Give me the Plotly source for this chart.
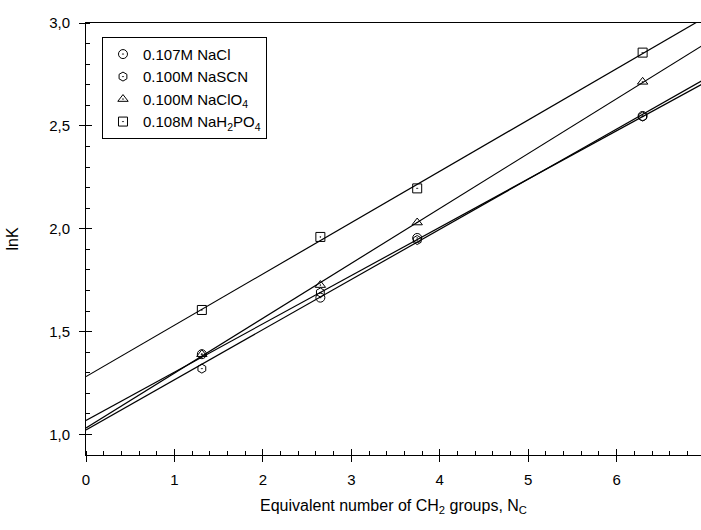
import numpy as np
import plotly.graph_objects as go

# Equivalent number of CH2 groups
nc = [1.31, 2.65, 3.745, 6.294]

# lnK for each salt
lnk_nacl = [1.39, 1.665, 1.955, 2.548]
lnk_nascn = [1.32, 1.69, 1.945, 2.545]
lnk_naclo4 = [1.39, 1.726, 2.03, 2.714]
lnk_nah2po4 = [1.605, 1.96, 2.196, 2.856]

series_names = [
    "0.107M NaCl",
    "0.100M NaSCN",
    "0.100M NaClO<sub>4</sub>",
    "0.108M NaH<sub>2</sub>PO<sub>4</sub>",
]
series_values = [lnk_nacl, lnk_nascn, lnk_naclo4, lnk_nah2po4]
symbols = ["circle-open-dot", "hexagon-open-dot", "triangle-up-open-dot", "square-open-dot"]

x_ticks = [0, 1, 2, 3, 4, 5, 6, 7]
y_ticks = [1.0, 1.5, 2.0, 2.5, 3.0]

X_RANGE = [0, 6.954]
Y_RANGE = [0.9, 3.0]

fig = go.Figure()

# linear regression lines through each series
x_fit = np.array([0.0, 7.2])
for vals in series_values:
    slope, intercept = np.polyfit(nc, vals, 1)
    fig.add_trace(go.Scatter(
        x=x_fit, y=slope * x_fit + intercept, mode="lines",
        line=dict(color="black", width=1.2), showlegend=False, hoverinfo="skip",
    ))

for name, vals, sym in zip(series_names, series_values, symbols):
    fig.add_trace(go.Scatter(
        x=nc, y=vals, mode="markers", name=name,
        marker=dict(symbol=sym, size=9, color="black",
                    line=dict(color="black", width=1)),
    ))

font = dict(family="Liberation Sans, Arial, sans-serif", color="black")

fig.update_layout(
    width=701, height=530,
    margin=dict(l=86, r=0, t=23, b=75),
    paper_bgcolor="white", plot_bgcolor="white",
    separators=", ",
    font=dict(size=15, **font),
    showlegend=True,
    legend=dict(
        x=0.026, y=0.968, xanchor="left", yanchor="top",
        bordercolor="black", borderwidth=1, bgcolor="white",
        font=dict(size=15, **font),
    ),
    xaxis=dict(
        range=X_RANGE, tickvals=x_ticks, showgrid=False, zeroline=False,
        showline=True, linecolor="black", linewidth=1, mirror=True,
        ticks="outside", ticklen=6, tickcolor="black", tickwidth=1,
        ticklabelstandoff=5,
        minor=dict(ticks="inside", dtick=0.2, ticklen=4, tickcolor="black", tickwidth=1),
        tickfont=dict(size=15, **font),
        title=dict(text="Equivalent number of CH<sub>2</sub> groups, N<sub>C</sub>",
                   font=dict(size=16, **font), standoff=12),
    ),
    yaxis=dict(
        range=Y_RANGE, tickvals=y_ticks, tickformat=".1f", showgrid=False, zeroline=False,
        showline=True, linecolor="black", linewidth=1, mirror=False,
        ticks="outside", ticklen=6, tickcolor="black", tickwidth=1,
        ticklabelstandoff=6,
        minor=dict(ticks="inside", dtick=0.1, ticklen=4, tickcolor="black", tickwidth=1),
        tickfont=dict(size=15, **font),
        title=dict(text="lnK", font=dict(size=16, **font), standoff=26),
    ),
    # companion axes carrying the inner half of the major ticks
    xaxis2=dict(
        overlaying="x", matches="x", side="bottom", tickvals=x_ticks,
        ticks="inside", ticklen=6, tickcolor="black", tickwidth=1,
        showticklabels=False, showgrid=False, zeroline=False, showline=False,
    ),
    yaxis2=dict(
        overlaying="y", matches="y", side="left", tickvals=y_ticks,
        ticks="inside", ticklen=6, tickcolor="black", tickwidth=1,
        showticklabels=False, showgrid=False, zeroline=False, showline=False,
    ),
)

# invisible trace that anchors the companion axes
fig.add_trace(go.Scatter(x=[None], y=[None], xaxis="x2", yaxis="y2",
                         showlegend=False, hoverinfo="skip"))

fig.write_html("out.html")
